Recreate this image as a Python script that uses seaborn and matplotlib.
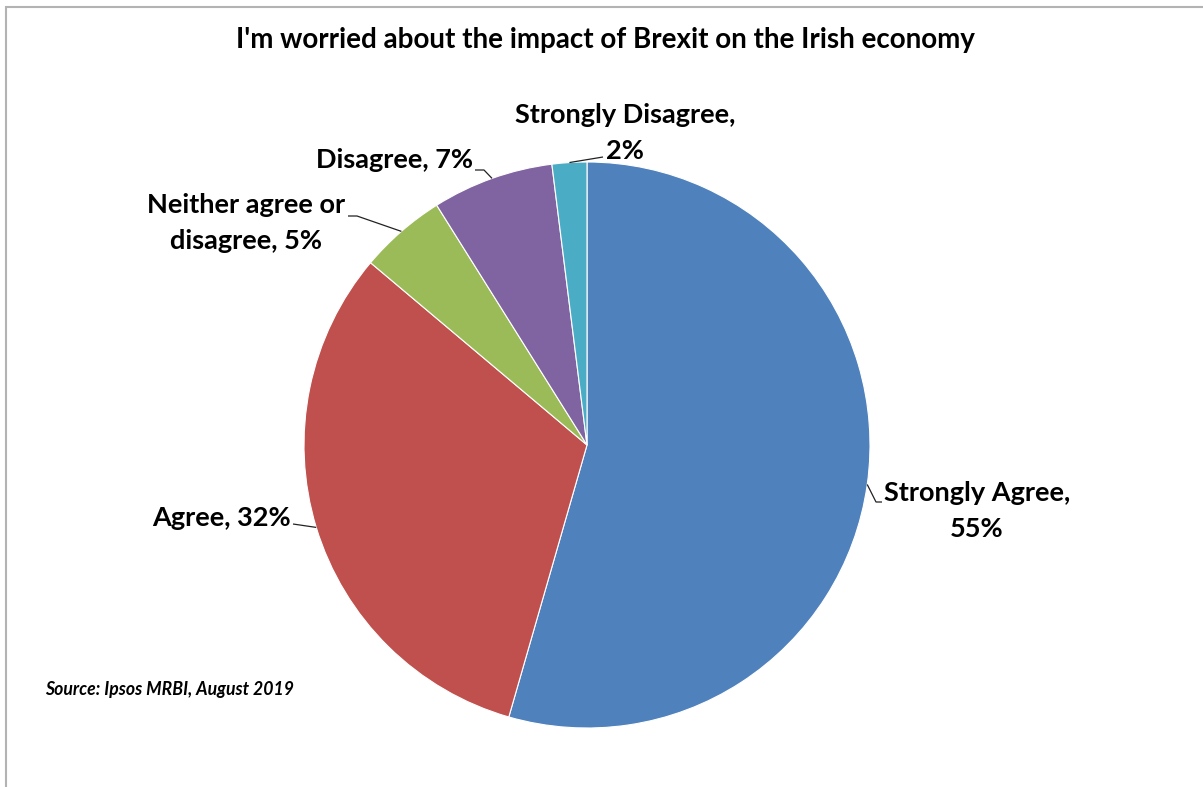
import numpy as np
import matplotlib
matplotlib.use("Agg")
import matplotlib.pyplot as plt
from matplotlib.patches import Rectangle
import seaborn as sns

# Survey responses
categories = ["Strongly Agree", "Agree", "Neither agree or disagree", "Disagree", "Strongly Disagree"]
shares = [55, 32, 5, 7, 2]
colors = ["#4F81BD", "#C0504D", "#9BBB59", "#8064A2", "#4BACC6"]
title = "I'm worried about the impact of Brexit on the Irish economy"
source = "Source: Ipsos MRBI, August 2019"

sns.set_theme(style="white")
plt.rcParams["font.family"] = ["Lato", "DejaVu Sans"]

W, H = 1203, 787
fig = plt.figure(figsize=(W / 100, H / 100), dpi=100)
fig.patch.set_facecolor("white")

# Pie axes placed in pixel terms: centre (587, 445), radius 283
cx, cy, r = 587, 445, 283
ax = fig.add_axes([(cx - r) / W, (H - cy - r) / H, 2 * r / W, 2 * r / H])

palette = sns.color_palette(colors)
wedges, _ = ax.pie(shares, colors=palette, startangle=90, counterclock=False,
                   radius=1, wedgeprops=dict(edgecolor="white", linewidth=0.8))
ax.set_xlim(-1, 1)
ax.set_ylim(-1, 1)
ax.set_aspect("equal")
ax.axis("off")


def to_data(px, py):
    return (px - cx) / r, (cy - py) / r


# Label layout: text centre (px), wrapped text, elbow points (px)
label_layout = {
    "Strongly Agree": dict(pos=(977, 511), wrap="Strongly Agree,\n{v}%",
                           path=[(876, 502), (882, 502)]),
    "Agree": dict(pos=(221, 518), wrap="Agree, {v}%",
                  path=[(293, 524)]),
    "Neither agree or disagree": dict(pos=(246, 223),
                                      wrap="Neither agree or\ndisagree, {v}%",
                                      path=[(357, 216), (348, 216)]),
    "Disagree": dict(pos=(394, 160), wrap="Disagree, {v}%",
                     path=[(484, 170), (475, 170)]),
    "Strongly Disagree": dict(pos=(625, 133), wrap="Strongly Disagree,\n{v}%",
                              path=[(603, 157)]),
}

for wedge, cat, val in zip(wedges, categories, shares):
    lay = label_layout[cat]
    mid = np.deg2rad((wedge.theta1 + wedge.theta2) / 2)
    ex, ey = np.cos(mid), np.sin(mid)
    pts = [(ex, ey)] + [to_data(*p) for p in lay["path"]]
    xs, ys = zip(*pts)
    ax.plot(xs, ys, color="#222222", lw=0.9, clip_on=False, solid_capstyle="butt")
    tx, ty = to_data(*lay["pos"])
    ax.text(tx, ty, lay["wrap"].format(v=val), ha="center", va="center",
            fontsize=19.5, fontweight="bold", color="black", linespacing=1.6,
            multialignment="center", clip_on=False)

fig.text(605 / W, 1 - 40 / H, title, ha="center", va="center",
         fontsize=20, fontweight="bold", color="black")
fig.text(45 / W, 1 - 690 / H, source, ha="left", va="center",
         fontsize=12.7, fontweight="bold", fontstyle="italic", color="black")

# Chart frame
fig.add_artist(Rectangle((6 / W, -0.05), 1.2, 1 - 7 / H + 0.05, transform=fig.transFigure,
                         fill=False, edgecolor="#b3b3b3", linewidth=1.5))

fig.savefig("out.png", dpi=100, facecolor="white")
